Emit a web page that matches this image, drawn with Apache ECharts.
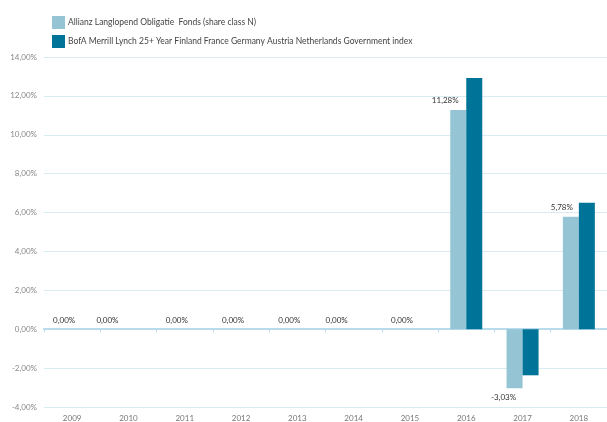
<!DOCTYPE html>
<html>
<head>
<meta charset="utf-8">
<script src="https://cdn.jsdelivr.net/npm/echarts@6/dist/echarts.min.js"></script>
<style>
html,body{margin:0;padding:0;background:#fff;}
#chart{width:607px;height:422px;}
</style>
</head>
<body>
<div id="chart"></div>
<script>
const categories = ['2009','2010','2011','2012','2013','2014','2015','2016','2017','2018'];
const fundName = 'Allianz Langlopend Obligatie  Fonds (share class N)';
const indexName = 'BofA Merrill Lynch 25+ Year Finland France Germany Austria Netherlands Government index';
const fundValues = [0, 0, 0, 0, 0, 0, 0, 11.28, -3.03, 5.78];
const indexValues = [null, null, null, null, null, null, null, 12.92, -2.37, 6.50];
const yTicks = { min: -4, max: 14, step: 2 };

const labelShift = [0, -13, 0, 0, 0, -9, 0, -13, -11, -9];
const fmt = v => v.toFixed(2).replace('.', ',') + '%';
const FONT = 'Lato';

const chart = echarts.init(document.getElementById('chart'), null, {renderer: 'canvas'});
chart.setOption({
  animation: false,
  backgroundColor: '#fff',
  legend: {
    orient: 'vertical',
    left: 47, top: 11,
    itemWidth: 13, itemHeight: 13, itemGap: 6,
    icon: 'rect',
    textStyle: { fontFamily: FONT, fontSize: 8.5, color: '#444', padding: [0,0,0,-2] },
    data: [fundName, indexName]
  },
  grid: { left: 44, top: 57, width: 567, height: 350 },
  xAxis: [{
    type: 'category', data: categories,
    axisLine: { onZero: true, lineStyle: { color: '#b9dcec', width: 2 } },
    axisTick: { show: true, length: 3, lineStyle: { color: '#b9dcec' } },
    axisLabel: { show: false }
  }, {
    type: 'category', data: categories, position: 'bottom',
    axisLine: { show: false, onZero: false }, axisTick: { show: false },
    axisLabel: { fontFamily: FONT, fontSize: 8, color: '#777', margin: 7 }
  }],
  yAxis: {
    type: 'value', min: yTicks.min, max: yTicks.max, interval: yTicks.step,
    axisLine: { show: false }, axisTick: { show: false },
    axisLabel: { fontFamily: FONT, fontSize: 8, color: '#888', margin: 7, formatter: v => fmt(v) },
    splitLine: { lineStyle: { color: '#d9ebf2', width: 1 } }
  },
  series: [{
    name: fundName, type: 'bar', barWidth: 16, barGap: '0%',
    itemStyle: { color: '#95c5d5' },
    data: fundValues.map((v, i) => ({
      value: v,
      label: {
        show: true,
        position: v < 0 ? 'bottom' : 'top',
        offset: [labelShift[i], 0],
        formatter: p => fmt(p.value),
        fontFamily: FONT, fontSize: 8, color: '#333'
      }
    }))
  }, {
    name: indexName, type: 'bar', barWidth: 16, barGap: '0%',
    itemStyle: { color: '#007498' },
    data: indexValues
  }]
});
</script>
</body>
</html>
